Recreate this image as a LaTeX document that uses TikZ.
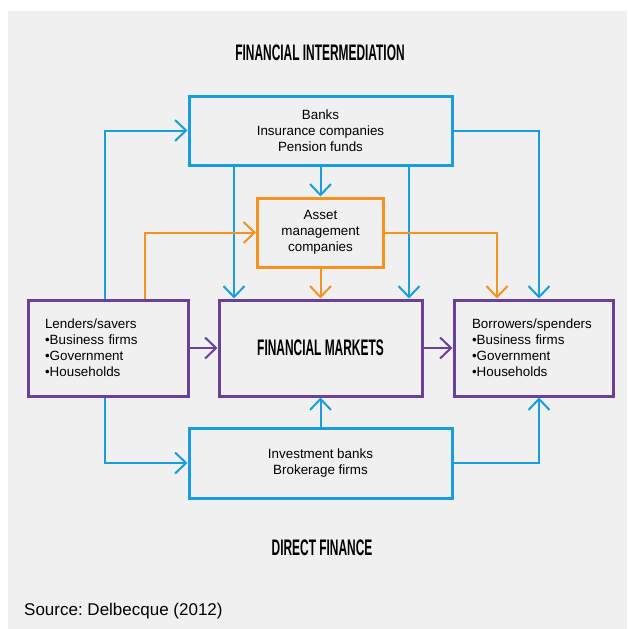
\documentclass[tikz,border=0pt]{standalone}
\usepackage{fontspec}
\setmainfont{Liberation Sans}
\usetikzlibrary{arrows.meta}

\definecolor{fiblue}{RGB}{23,158,222}
\definecolor{fiorange}{RGB}{246,146,30}
\definecolor{fipurple}{RGB}{106,64,154}
\definecolor{fibg}{RGB}{240,240,240}

\newcommand{\cond}[1]{\scalebox{0.53}[1]{#1}}

\tikzset{
  box/.style={draw, line width=3pt, inner sep=0pt, align=center,
    font=\fontsize{13.4}{16}\selectfont},
  bluebox/.style={box, draw=fiblue},
  orangebox/.style={box, draw=fiorange},
  purplebox/.style={box, draw=fipurple},
  link/.style={->, line width=2pt},
  heading/.style={anchor=base, inner sep=0pt, font=\fontsize{22.5}{26}\selectfont\bfseries}
}

\begin{document}
\begin{tikzpicture}[x=1pt, y=-1pt, >={Straight Barb[length=11pt,width=21pt]}]
  \useasboundingbox (0,0) rectangle (627,629);
  \fill[fibg] (8,11) rectangle (627,629);

  % headings
  \node[heading] (title) at (320,60) {\cond{FINANCIAL INTERMEDIATION}};
  \node[heading] (direct) at (322,555) {\cond{DIRECT FINANCE}};
  \node[anchor=base west, inner sep=0pt, font=\fontsize{17}{20}\selectfont] (source) at (24,615) {Source:\ Delbecque (2012)};

  % boxes
  \node[bluebox, minimum width=263pt, minimum height=69pt] (banks) at (320.5,130.5)
    {Banks\\Insurance companies\\Pension funds};
  \node[orangebox, minimum width=126pt, minimum height=69pt] (asset) at (320.5,232.5)
    {Asset\\management\\companies};
  \node[purplebox, minimum width=203pt, minimum height=96pt, font=\fontsize{22.5}{26}\selectfont\bfseries] (fm) at (320.5,348)
    {\cond{FINANCIAL MARKETS}};
  \node[purplebox, minimum height=96pt, text width=126pt, inner xsep=17pt, align=left] (lenders) at (108,348)
    {Lenders/savers\\\textbullet Business firms\\\textbullet Government\\\textbullet Households};
  \node[purplebox, minimum height=96pt, text width=123pt, inner xsep=18pt, align=left] (borrowers) at (533.5,348)
    {Borrowers/spenders\\\textbullet Business firms\\\textbullet Government\\\textbullet Households};
  \node[bluebox, minimum width=263pt, minimum height=70pt] (invest) at (320.5,463)
    {Investment banks\\Brokerage firms};

  % columns of the connectors
  \coordinate (c1) at (105,0);
  \coordinate (c2) at (145,0);
  \coordinate (c3) at (234,0);
  \coordinate (c4) at (409,0);
  \coordinate (c5) at (497,0);
  \coordinate (c6) at (539,0);

  % blue
  \draw[link, fiblue] (lenders.north -| c1) |- (banks.west);
  \draw[link, fiblue] (banks.east) -| (borrowers.north -| c6);
  \draw[link, fiblue] (banks) -- (asset);
  \draw[link, fiblue] (banks.south -| c3) -- (fm.north -| c3);
  \draw[link, fiblue] (banks.south -| c4) -- (fm.north -| c4);
  \draw[link, fiblue] (lenders.south -| c1) |- (invest.west);
  \draw[link, fiblue] (invest.east) -| (borrowers.south -| c6);
  \draw[link, fiblue] (invest) -- (fm);
  % orange
  \draw[link, fiorange] (lenders.north -| c2) |- (asset.west);
  \draw[link, fiorange] (asset.east) -| (borrowers.north -| c5);
  \draw[link, fiorange] (asset) -- (fm);
  % purple
  \draw[link, fipurple] (lenders) -- (fm);
  \draw[link, fipurple] (fm) -- (borrowers);
\end{tikzpicture}
\end{document}
